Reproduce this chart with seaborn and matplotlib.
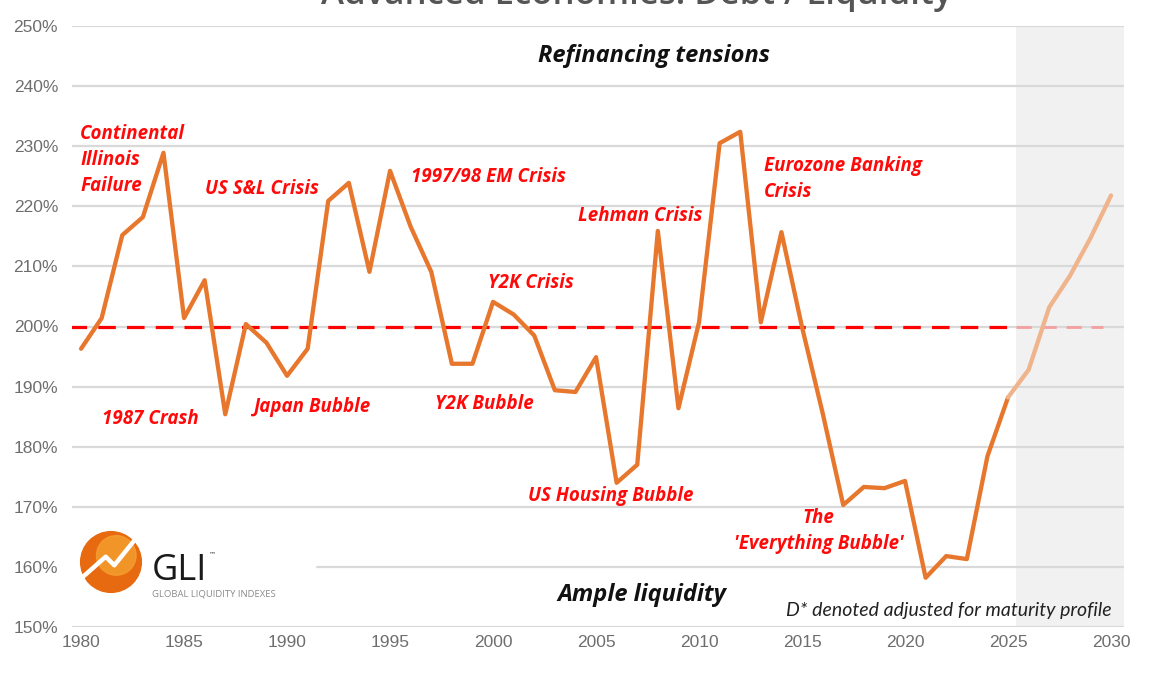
import numpy as np
import pandas as pd
import matplotlib
matplotlib.use("Agg")
import matplotlib.pyplot as plt
from matplotlib import font_manager as fm
from matplotlib.patches import Circle, Rectangle
import seaborn as sns

# ---------------- data ----------------
hist_years = list(range(1980, 2026))
hist_values = [196.3, 201.4, 215.2, 218.2, 228.9, 201.4, 207.7, 185.4, 200.4, 197.3,
               191.8, 196.3, 220.9, 223.9, 209.1, 225.9, 216.6, 209.1, 193.8, 193.8,
               204.1, 202.0, 198.5, 189.4, 189.1, 194.9, 174.0, 177.0, 215.9, 186.4,
               200.7, 230.5, 232.4, 200.7, 215.7, 199.9, 185.6, 170.3, 173.3, 173.1,
               174.3, 158.2, 161.8, 161.3, 178.4, 188.2]
proj_years = [2025, 2026, 2027, 2028, 2029, 2030]
proj_values = [188.2, 192.8, 203.2, 208.4, 214.7, 221.8]
threshold = 200
y_ticks = [150, 160, 170, 180, 190, 200, 210, 220, 230, 240, 250]
x_ticks = [1980, 1985, 1990, 1995, 2000, 2005, 2010, 2015, 2020, 2025, 2030]
title = "Advanced Economies: Debt / Liquidity"
annotations = [
    ("Continental\nIllinois\nFailure", 1979.95, 227.7, "left"),
    ("US S&L Crisis", 1986.0, 222.9, "left"),
    ("1997/98 EM Crisis", 1996.0, 224.9, "left"),
    ("Lehman Crisis", 2004.1, 218.4, "left"),
    ("Eurozone Banking\nCrisis", 2013.15, 224.5, "left"),
    ("Y2K Crisis", 1999.75, 207.2, "left"),
    ("1987 Crash", 1981.0, 184.6, "left"),
    ("Japan Bubble", 1988.4, 186.6, "left"),
    ("Y2K Bubble", 1997.2, 187.1, "left"),
    ("US Housing Bubble", 2001.7, 171.8, "left"),
    ("The\n'Everything Bubble'", 2015.8, 165.9, "center"),
]

hist_df = pd.DataFrame({"year": hist_years, "value": hist_values})
proj_df = pd.DataFrame({"year": proj_years, "value": proj_values})

# ---------------- fonts ----------------
sns.set_theme(style="white")
available = {f.name for f in fm.fontManager.ttflist}
narrow = "Liberation Sans Narrow" if "Liberation Sans Narrow" in available else "Liberation Sans"
ann_font = "Open Sans"
plt.rcParams["font.family"] = ["DejaVu Sans"]

fig = plt.figure(figsize=(11.53, 6.75), dpi=100)
ax = fig.add_axes([72 / 1153, 1 - 627 / 675, (1124 - 72) / 1153, (627 - 26) / 675])

xmin, xmax = 1979.56, 2030.63
ax.set_xlim(xmin, xmax)
ax.set_ylim(150, 250)

# forecast shading
ax.axvspan(2025.4, xmax, color="#F1F1F1", zorder=0, lw=0)

# grid
for yv in y_ticks:
    ax.axhline(yv, color="#D9D9D9", lw=1.6, zorder=1)

# threshold dashed line
ax.plot([1979.4, 2025.4], [threshold, threshold], color="#FF0000", lw=2.3,
        dashes=(5.5, 3.5), zorder=2)
ax.plot([2025.4, 2029.6], [threshold, threshold], color="#F4A0A0", lw=2.0,
        dashes=(5.5, 3.5), zorder=2)

# series
sns.lineplot(data=hist_df, x="year", y="value", ax=ax, color="#E8772E", lw=3.1,
             zorder=3, legend=False)
sns.lineplot(data=proj_df, x="year", y="value", ax=ax, color="#F0B48C", lw=3.1,
             zorder=3, legend=False)

for s in ax.spines.values():
    s.set_visible(False)
ax.set_xlabel("")
ax.set_ylabel("")
ax.set_xticks(x_ticks)
ax.set_xticklabels([str(x) for x in x_ticks], fontsize=12.5, color="#6E6E6E", family=narrow)
ax.set_yticks(y_ticks)
ax.set_yticklabels([f"{y}%" for y in y_ticks], fontsize=12.5, color="#6E6E6E", family=narrow)
ax.tick_params(axis="both", length=0, pad=6)
ax.tick_params(axis="y", pad=10)

# annotations
for txt, x, y, ha in annotations:
    ax.text(x, y, txt, color="#FF0A0A", fontsize=13.5, fontweight="bold", fontstyle="italic",
            family=ann_font, ha=ha, va="center", linespacing=1.4, zorder=5)

ax.text(2007.8, 245.0, "Refinancing tensions", color="#111111", fontsize=17,
        fontweight="bold", fontstyle="italic", family=ann_font, ha="center", va="center", zorder=5)
ax.text(2007.2, 155.3, "Ample liquidity", color="#111111", fontsize=17,
        fontweight="bold", fontstyle="italic", family=ann_font, ha="center", va="center", zorder=5)
ax.text(2030.05, 152.8, "D* denoted adjusted for maturity profile", color="#222222",
        fontsize=14, fontstyle="italic", family="Lato", ha="right", va="center", zorder=5)

# title (clipped at the top of the image)
fig.text(0.552, 1 - 4 / 675, title, ha="center", va="baseline", fontsize=25,
         color="#555555", family="Open Sans", fontweight="semibold")

# logo with white backdrop
fig.patches.append(Rectangle((72 / 1153, 1 - 605 / 675), (315 - 72) / 1153, 90 / 675,
                             transform=fig.transFigure, color="white", zorder=2))
lax = fig.add_axes([78 / 1153, 1 - 595 / 675, 66 / 1153, 66 / 675], zorder=6)
lax.set_xlim(0, 1)
lax.set_ylim(0, 1)
lax.axis("off")
lax.add_patch(Circle((0.5, 0.5), 0.46, color="#E86A10"))
lax.add_patch(Circle((0.58, 0.6), 0.3, color="#F5A030", alpha=0.8))
lax.plot([0.08, 0.42, 0.55, 0.88], [0.28, 0.58, 0.45, 0.86], color="white", lw=3.2,
         solid_capstyle="round")
fig.text(152 / 1153, 1 - 580 / 675, "GLI", fontsize=26, color="#1A1A1A",
         family="Open Sans", ha="left", va="baseline", zorder=7)
fig.text(209 / 1153, 1 - 556 / 675, "\u2122", fontsize=5, color="#333333",
         ha="left", va="baseline", zorder=7)
fig.text(152 / 1153, 1 - 596 / 675, "GLOBAL LIQUIDITY INDEXES", fontsize=6.8,
         color="#8A8A8A", family="Open Sans", ha="left", va="baseline", zorder=7)

fig.savefig("out.png", dpi=100, facecolor="white")
